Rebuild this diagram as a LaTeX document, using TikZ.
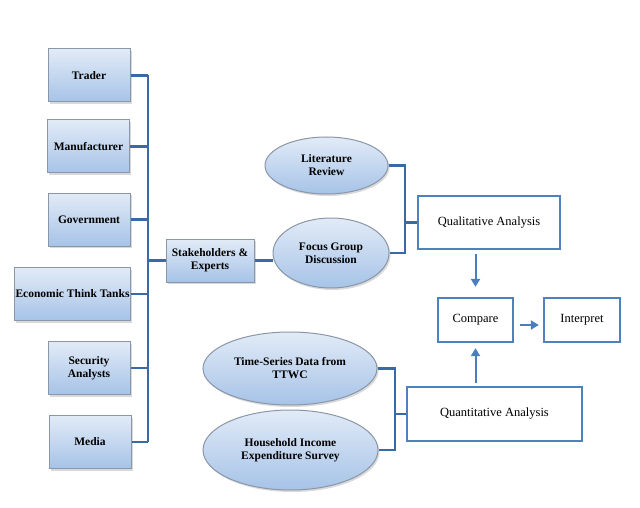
\documentclass[tikz,border=0pt]{standalone}
\usepackage{fontspec}
\setmainfont{Liberation Serif}
\usepackage{tikz}
\usetikzlibrary{arrows.meta,positioning,shapes.geometric,shadows}

\definecolor{linkblue}{HTML}{3A69A8}
\definecolor{arrowblue}{HTML}{4A7EBF}
\definecolor{frameblue}{HTML}{4F81BD}
\definecolor{fillTop}{HTML}{E2EBF7}
\definecolor{fillBot}{HTML}{A6C3E7}
\definecolor{edgegray}{HTML}{8A97A8}

\begin{document}
\begin{tikzpicture}[x=1pt,y=-1pt,
  font=\fontsize{12.5}{14}\selectfont,
  actor/.style={draw=edgegray,line width=1pt,top color=fillTop,bottom color=fillBot,
    minimum width=82pt,minimum height=53pt,align=center,inner sep=1pt,font=\fontsize{11.5}{13}\selectfont\bfseries,
    drop shadow={shadow xshift=1.5pt,shadow yshift=-2pt,opacity=0.3}},
  source/.style={ellipse,draw=edgegray,line width=1pt,top color=fillTop,bottom color=fillBot,
    align=center,inner sep=0pt,font=\fontsize{11.5}{13}\selectfont\bfseries,
    drop shadow={shadow xshift=1.5pt,shadow yshift=-2pt,opacity=0.3}},
  result/.style={draw=frameblue,line width=2.3pt,fill=white,align=center,inner sep=1pt},
  link/.style={draw=linkblue,line width=2.5pt},
  arr/.style={draw=arrowblue,line width=2pt,-{Triangle[length=8pt,width=9pt]}}]
\useasboundingbox (0,0) rectangle (640,508);

% stakeholder groups
\node[actor] (trader) at (89,75.5) {Trader};
\node[actor] (manuf) at (88.5,146.5) {Manufacturer};
\node[actor] (govt) at (89,219.5) {Government};
\node[actor,minimum width=115pt] (tanks) at (72.5,294) {Economic Think Tanks};
\node[actor] (secur) at (89,368) {Security\\Analysts};
\node[actor] (media) at (90,442) {Media};
\node[actor,minimum width=88pt,minimum height=43pt] (stake) at (210,260.5) {Stakeholders \&\\Experts};

% qualitative sources
\node[source,minimum width=123pt,minimum height=57pt] (lit) at (326.5,165.5) {Literature\\Review};
\node[source,minimum width=116pt,minimum height=70pt] (focus) at (331,253) {Focus Group\\Discussion};

% quantitative sources
\node[source,minimum width=174pt,minimum height=73pt] (tsdata) at (290,368.5) {Time-Series Data from\\TTWC};
\node[source,minimum width=175pt,minimum height=80pt] (hies) at (290.5,450) {Household Income\\Expenditure Survey};

% analysis
\node[result,minimum width=142pt,minimum height=53pt] (qual) at (489,222.5) {Qualitative Analysis};
\node[result,minimum width=175pt,minimum height=54pt] (quant) at (494.5,414) {Quantitative Analysis};
\node[result,minimum width=75pt,minimum height=44pt] (cmp) at (475.5,320) {Compare};
\node[result,minimum width=76pt,minimum height=44pt] (intp) at (582,320) {Interpret};

% bus of the groups
\coordinate (bustop) at (148,75.5);
\coordinate (busbot) at (148,442);
\draw[link] (bustop) -- (busbot);
\foreach \n in {trader,manuf,govt,tanks,secur,media}
  \draw[link] (\n.east) -- (\n.east -| bustop);
\draw[link] (stake.west) -- (stake.west -| bustop);
\draw[link] (stake.east) -- (stake.east -| focus.west);

% brackets
\coordinate (qualjoin) at (405,222.5);
\draw[link] (lit.east) -| (qualjoin) |- (focus.east);
\draw[link] (qualjoin) -- (qual.west);
\coordinate (quantjoin) at (395,414);
\draw[link] (tsdata.east) -| (quantjoin) |- (hies.east);
\draw[link] (quantjoin) -- (quant.west);

% arrows
\draw[arr,shorten <=4pt,shorten >=10pt] (qual.south -| cmp) -- (cmp.north);
\draw[arr,shorten <=3pt,shorten >=5pt] (quant.north -| cmp) -- (cmp.south);
\draw[arr,shorten <=6pt,shorten >=4pt] ([yshift=-5pt]cmp.east) -- ([yshift=-5pt]intp.west);
\end{tikzpicture}
\end{document}
